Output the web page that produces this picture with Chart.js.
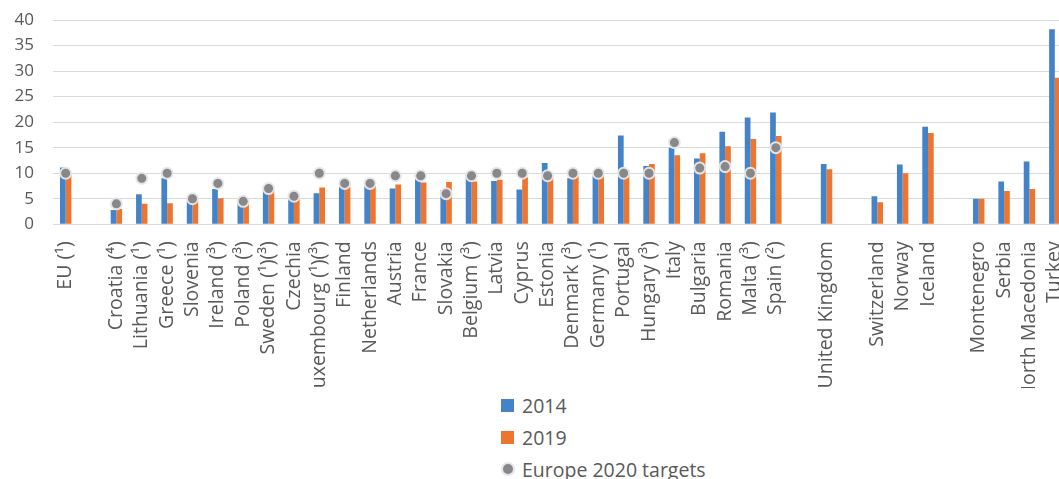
<!DOCTYPE html>
<html>
<head>
<meta charset="utf-8">
<script src="https://cdn.jsdelivr.net/npm/chart.js@4"></script>
<style>
  body { margin: 0; background: #fff; font-family: "Open Sans", sans-serif; }
  #wrap { position: relative; width: 1059px; height: 479px; overflow: hidden; }
  #myChart { position: absolute; left: 0; top: 0; }
  .leg { position: absolute; left: 501px; height: 26px; display: flex; align-items: center; font-size: 19.5px; color: #595959; }
  .box { width: 13px; height: 13px; margin-right: 8px; }
  .dot { width: 10px; height: 10px; border-radius: 50%; background: #87878c; box-shadow: 0 0 0 2px #e6e6e6; margin: 0 9px 0 2px; }
</style>
</head>
<body>
<div id="wrap">
  <canvas id="myChart" width="1075" height="388"></canvas>
  <div class="leg" style="top:392px"><span class="box" style="background:#4583c8"></span><span id="l0"></span></div>
  <div class="leg" style="top:424px"><span class="box" style="background:#ee7530"></span><span id="l1"></span></div>
  <div class="leg" style="top:456px"><span class="dot"></span><span id="l2"></span></div>
</div>
<script>
var countries = ['EU (¹)', '', 'Croatia (⁴)', 'Lithuania (¹)', 'Greece (¹)', 'Slovenia', 'Ireland (³)', 'Poland (³)',
    'Sweden (¹)(³)', 'Czechia', 'Luxembourg (¹)(³)', 'Finland', 'Netherlands', 'Austria', 'France', 'Slovakia',
    'Belgium (³)', 'Latvia', 'Cyprus', 'Estonia', 'Denmark (³)', 'Germany (¹)', 'Portugal', 'Hungary (³)', 'Italy',
    'Bulgaria', 'Romania', 'Malta (³)', 'Spain (²)', '', 'United Kingdom', '', 'Switzerland', 'Norway', 'Iceland', '',
    'Montenegro', 'Serbia', 'North Macedonia', 'Turkey'];

var values2014 = [11.1, null, 2.8, 5.9, 9.0, 4.4, 6.9, 4.8, 6.7, 5.0, 6.1, 7.3, 7.5, 7.0, 8.8, 6.7, 9.8, 8.5, 6.8, 12.0,
    9.0, 9.5, 17.4, 11.4, 15.0, 12.9, 18.1, 20.9, 21.9, null, 11.8, null, 5.5, 11.7, 19.1, null, 5.0, 8.4, 12.3, 38.2];

var values2019 = [10.2, null, 3.0, 4.0, 4.1, 4.6, 5.1, 4.6, 6.5, 5.5, 7.2, 7.3, 7.5, 7.8, 8.2, 8.3, 8.4, 8.7, 9.2, 9.8,
    9.9, 10.3, 10.6, 11.8, 13.5, 13.9, 15.3, 16.7, 17.3, null, 10.8, null, 4.3, 10.0, 17.9, null, 5.0, 6.5, 6.9, 28.7];

var targets2020 = [10, null, 4, 9, 10, 5, 8, 4.5, 7, 5.5, 10, 8, 8, 9.5, 9.5, 6, 9.5, 10, 10, 9.5,
    10, 10, 10, 10, 16, 11, 11.3, 10, 15, null, null, null, null, null, null, null, null, null, null, null];

var seriesNames = ['2014', '2019', 'Europe 2020 targets'];
var yTicks = [0, 5, 10, 15, 20, 25, 30, 35, 40];

window.onload = function() {
    seriesNames.forEach(function(name, i) {
        document.getElementById('l' + i).textContent = name;
    });

    var ctx = document.getElementById('myChart').getContext('2d');
    var myChart = new Chart(ctx, {
        type: 'bar',
        data: {
            labels: countries,
            datasets: [{
                label: seriesNames[0],
                data: values2014,
                backgroundColor: '#4583c8',
                order: 1
            },
            {
                label: seriesNames[1],
                data: values2019,
                backgroundColor: '#ee7530',
                order: 1
            },
            {
                type: 'line',
                label: seriesNames[2],
                data: targets2020,
                showLine: false,
                pointRadius: 5.5,
                pointBackgroundColor: '#87878c',
                pointBorderColor: 'rgba(232,232,232,0.95)',
                pointBorderWidth: 2,
                order: 0
            }]
        },
        options: {
            responsive: false,
            animation: false,
            categoryPercentage: 0.45,
            barPercentage: 1,
            layout: { padding: { top: 20, right: 0, left: 0, bottom: 0 } },
            plugins: {
                legend: { display: false },
                tooltip: { enabled: false }
            },
            scales: {
                x: {
                    grid: { display: false, drawTicks: false },
                    border: { color: '#d9d9d9' },
                    ticks: {
                        autoSkip: false,
                        minRotation: 90,
                        maxRotation: 90,
                        padding: 17,
                        color: '#595959',
                        font: { family: 'Open Sans', size: 19.5 }
                    },
                    afterFit: function(scale) {
                        scale.height = 163.7;
                        scale.paddingLeft = 0;
                        scale.paddingRight = 0;
                    }
                },
                y: {
                    min: 0,
                    max: 40,
                    afterBuildTicks: function(scale) {
                        scale.ticks = yTicks.map(function(v) { return { value: v }; });
                    },
                    grid: { color: '#d9d9d9', drawTicks: false },
                    border: { display: false },
                    ticks: {
                        padding: 19,
                        color: '#595959',
                        font: { family: 'Open Sans', size: 17 }
                    },
                    afterFit: function(scale) {
                        scale.width = 53;
                        scale.paddingTop = 0;
                        scale.paddingBottom = 0;
                    }
                }
            }
        }
    });
};
</script>
</body>
</html>
